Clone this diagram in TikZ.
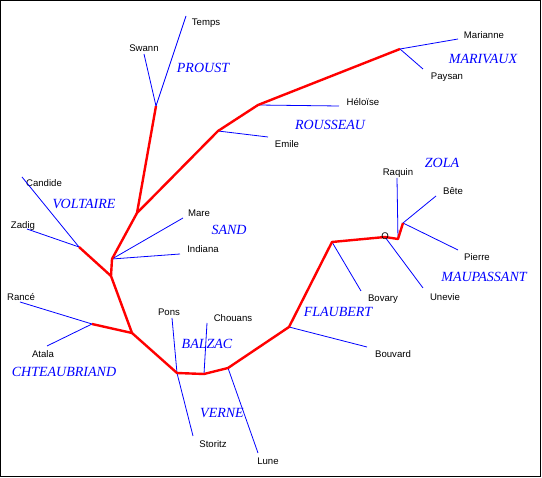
\documentclass[tikz,border=0pt]{standalone}
\usepackage{fontspec}
\setmainfont{Liberation Serif}
\setsansfont{Liberation Sans}
\begin{document}
\begin{tikzpicture}[x=1pt, y=-1pt,
  trunk/.style={red, line width=2.4pt, line join=round},
  twig/.style={blue, line width=0.8pt},
  work/.style={font=\sffamily\fontsize{9.6}{10}\selectfont, inner sep=0pt},
  author/.style={blue, font=\itshape\fontsize{14}{15}\selectfont, inner sep=0pt}]
  \useasboundingbox (0,0) rectangle (542,478);
  \draw[line width=1.2pt] (0.6,0.6) rectangle (540.4,476.4);
  \coordinate (pr) at (156,106);
  \coordinate (vo) at (137,213);
  \coordinate (ro1) at (218,131);
  \coordinate (ro2) at (258,105);
  \coordinate (ma) at (400,49);
  \coordinate (sa) at (112,259);
  \coordinate (sa2) at (111,276);
  \coordinate (vt) at (79,247);
  \coordinate (bz) at (132,333);
  \coordinate (ch) at (92,324);
  \coordinate (bz1) at (177,373);
  \coordinate (bz2) at (204,374);
  \coordinate (ve) at (228,368);
  \coordinate (fl1) at (289,327);
  \coordinate (fl2) at (332,242);
  \coordinate (mp) at (385,237);
  \coordinate (zo1) at (398,239);
  \coordinate (zo2) at (403,223);
  \foreach \n/\from/\ex/\ey/\lx/\ly/\txt in {
      swann/pr/144/54/144/48/Swann, temps/pr/186/16/206/23/Temps,
      marianne/ma/458/39/484/35/Marianne, paysan/ma/423/69/447/77/Paysan,
      heloise/ro2/339/106/363/102/Héloïse, emile/ro1/268/137/287/144/Emile,
      candide/vt/22/177/44/183/Candide, zadig/vt/27/229/23/226/Zadig,
      mare/sa/183/218/199/213/Mare, indiana/sa/180/254/203/249/Indiana,
      rance/ch/20/302/21/297/Rancé, atala/ch/47/346/43/354/Atala,
      pons/bz1/172/318/169/312/Pons, storitz/bz1/193/436/213/444/Storitz,
      chouans/bz2/207/323/233/318/Chouans, lune/ve/258/453/268/461/Lune,
      bovary/fl2/361/291/383/299/Bovary, bouvard/fl1/367/347/393/354/Bouvard,
      unevie/mp/423/288/445/297/Unevie, raquin/zo1/397/178/398/173/Raquin,
      bete/zo2/436/196/453/191/Bête, pierre/zo2/458/250/477/257/Pierre} {
    \coordinate (\n-end) at (\ex,\ey);
    \node[work] (\n) at (\lx,\ly) {\txt};
    \draw[twig] (\from) -- (\n-end);
  }
  \draw[trunk] (pr) -- (vo) -- (ro1) -- (ro2) -- (ma);
  \draw[trunk] (vo) -- (sa) -- (sa2) -- (bz) -- (bz1) -- (bz2) -- (ve)
    -- (fl1) -- (fl2) -- (mp) -- (zo1) -- (zo2);
  \draw[trunk] (vt) -- (sa2);
  \draw[trunk] (ch) -- (bz);
  \node[work] (omark) at (385,236) {O};
  \foreach \n/\lx/\ly/\txt in {
      proust/203/68/PROUST, marivaux/483/59/MARIVAUX,
      rousseau/330/125/ROUSSEAU, voltaire/84/204/VOLTAIRE,
      sand/229/230/SAND, chateaubriand/64/372/CHTEAUBRIAND,
      balzac/207/344/BALZAC, verne/222/413/VERNE,
      flaubert/338/312/FLAUBERT, maupassant/484/277/MAUPASSANT,
      zola/442/163/ZOLA} {
    \node[author] (\n) at (\lx,\ly) {\txt};
  }
\end{tikzpicture}
\end{document}
